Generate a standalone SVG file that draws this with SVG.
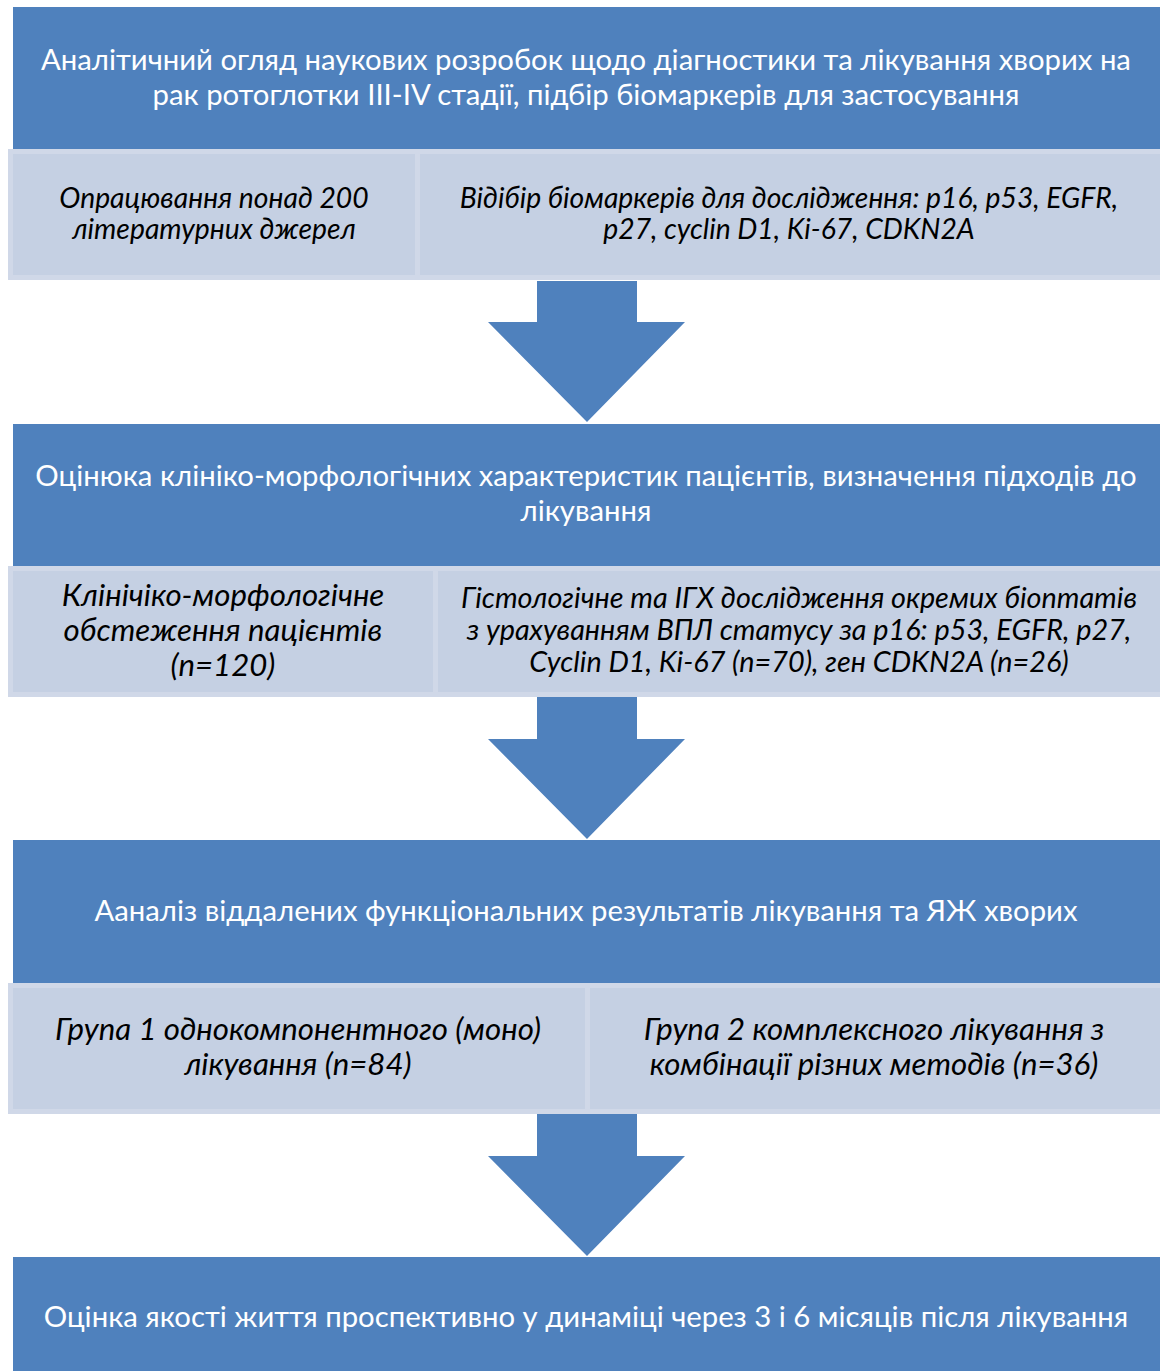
<svg xmlns="http://www.w3.org/2000/svg" width="1160" height="1371" viewBox="0 0 1160 1371">
<style>
.main{fill:#4F81BD}
.cell{fill:#C5D0E3;stroke:#D0D8E8;stroke-width:5}
.arrow{fill:#4F81BD}
.t{font-family:Lato,"Liberation Sans",sans-serif;fill:#FFFFFF;font-size:29.3px;text-anchor:middle}
.s{font-family:Lato,"Liberation Sans",sans-serif;fill:#000000;font-style:italic;font-size:28.3px;text-anchor:middle}
.s2{font-size:31.2px}
.s3{font-size:28.8px}
</style>
<rect width="1160" height="1371" fill="#FFFFFF"/>
<g id="connectors">
<path class="arrow" d="M537,281 H637 V322 H685 L587,422 L488,322 H537 Z"/>
<path class="arrow" d="M537,697 H637 V739 H685 L587,839 L488,739 H537 Z"/>
<path class="arrow" d="M537,1114 H637 V1156 H685 L587,1256 L488,1156 H537 Z"/>
</g>
<g id="node1">
<rect class="main" x="13" y="7" width="1150" height="142"/>
<text class="t" x="586" y="70">Аналітичний огляд наукових розробок щодо діагностики та лікування хворих на</text>
<text class="t" x="586" y="105">рак ротоглотки III-IV стадії, підбір біомаркерів для застосування</text>
</g>
<g id="node1a">
<rect class="cell" x="10.5" y="151.5" width="407" height="126"/>
<text class="s" x="214" y="208">Опрацювання понад 200</text>
<text class="s" x="214" y="239">літературних джерел</text>
</g>
<g id="node1b">
<rect class="cell" x="417.5" y="151.5" width="750" height="126"/>
<text class="s" x="789" y="208">Відібір біомаркерів для дослідження: p16, p53, EGFR,</text>
<text class="s" x="789" y="239">p27, cyclin D1, Ki-67, CDKN2A</text>
</g>
<g id="node2">
<rect class="main" x="13" y="424" width="1150" height="142"/>
<text class="t" x="586" y="486">Оцінюка клініко-морфологічних характеристик пацієнтів, визначення підходів до</text>
<text class="t" x="586" y="521">лікування</text>
</g>
<g id="node2a">
<rect class="cell" x="10.5" y="568.5" width="425" height="126"/>
<text class="s s2" x="223" y="606">Клінічіко-морфологічне</text>
<text class="s s2" x="223" y="641">обстеження пацієнтів</text>
<text class="s s2" x="223" y="676">(n=120)</text>
</g>
<g id="node2b">
<rect class="cell" x="435.5" y="568.5" width="732" height="126"/>
<text class="s s3" x="799" y="608">Гістологічне та ІГХ дослідження  окремих біоптатів</text>
<text class="s s3" x="799" y="640">з урахуванням ВПЛ статусу за p16: p53, EGFR, p27,</text>
<text class="s s3" x="799" y="672">Cyclin D1, Ki-67 (n=70), ген CDKN2A (n=26)</text>
</g>
<g id="node3">
<rect class="main" x="13" y="840" width="1150" height="143"/>
<text class="t" x="586" y="921">Ааналіз віддалених функціональних результатів лікування та ЯЖ хворих</text>
</g>
<g id="node3a">
<rect class="cell" x="10.5" y="985.5" width="577" height="126"/>
<text class="s s2" x="298" y="1040">Група 1 однокомпонентного (моно)</text>
<text class="s s2" x="298" y="1075">лікування (n=84)</text>
</g>
<g id="node3b">
<rect class="cell" x="587.5" y="985.5" width="580" height="126"/>
<text class="s s2" x="874" y="1040">Група 2 комплексного лікування з</text>
<text class="s s2" x="874" y="1075">комбінації різних методів (n=36)</text>
</g>
<g id="node4">
<rect class="main" x="13" y="1257" width="1150" height="120"/>
<text class="t" x="586" y="1327">Оцінка якості життя проспективно у динаміці через 3 і 6 місяців після лікування</text>
</g>
</svg>
